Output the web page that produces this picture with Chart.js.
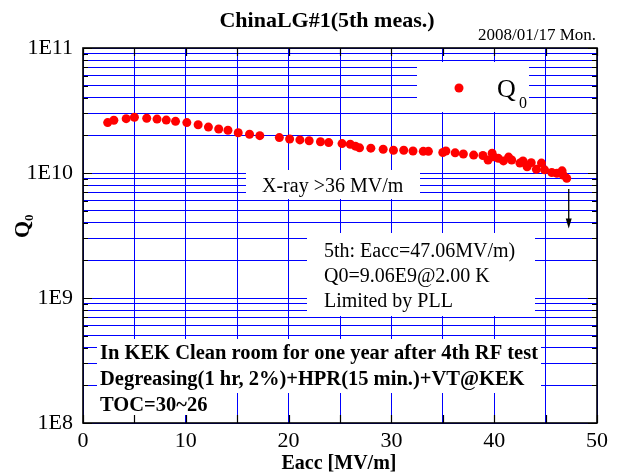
<!DOCTYPE html>
<html>
<head>
<meta charset="utf-8">
<title>ChinaLG#1(5th meas.)</title>
<script src="https://cdn.jsdelivr.net/npm/chart.js"></script>
<style>
  body { margin: 0; background: #fff; }
</style>
</head>
<body>
<canvas id="qChart" width="617" height="475"></canvas>
<script>
// Eacc [MV/m] and Q0
const eacc = [2.4, 3.0, 4.2, 5.0, 6.2, 7.2, 8.1, 9.0, 10.1, 11.2, 12.2, 13.2, 14.1, 15.1, 16.2, 17.2,
  19.1, 20.1, 21.1, 22.0, 23.1, 23.9, 25.2, 26.0, 26.5, 26.9, 28.0, 29.2, 30.2, 31.2, 32.1, 33.1,
  33.6, 35.0, 35.3, 36.2, 37.0, 38.0, 38.9, 39.4, 39.8, 39.9, 40.4, 40.9, 41.4, 41.7, 42.5, 42.8,
  43.2, 43.6, 44.1, 44.6, 44.9, 45.6, 46.1, 46.6, 46.7, 47.06];
const q0 = [2.53e10, 2.64e10, 2.72e10, 2.79e10, 2.74e10, 2.70e10, 2.65e10, 2.59e10, 2.53e10, 2.43e10,
  2.33e10, 2.25e10, 2.20e10, 2.10e10, 2.04e10, 1.99e10, 1.92e10, 1.87e10, 1.84e10, 1.81e10, 1.78e10,
  1.75e10, 1.72e10, 1.70e10, 1.64e10, 1.59e10, 1.58e10, 1.55e10, 1.52e10, 1.52e10, 1.50e10, 1.49e10,
  1.49e10, 1.46e10, 1.50e10, 1.45e10, 1.42e10, 1.39e10, 1.38e10, 1.27e10, 1.44e10, 1.35e10, 1.31e10,
  1.25e10, 1.34e10, 1.27e10, 1.20e10, 1.25e10, 1.12e10, 1.21e10, 1.07e10, 1.20e10, 1.06e10, 1.01e10,
  9.95e9, 1.04e10, 9.64e9, 9.06e9];

const xTicks = [0, 5, 10, 15, 20, 25, 30, 35, 40, 45, 50];
const yDecades = [1e8, 1e9, 1e10, 1e11];
const yTickLabels = ['1E8', '1E9', '1E10', '1E11'];

// arrow below the last point (quench limit marker)
const arrowEacc = 47.25;
const arrowFrom = 7.45e9;
const arrowTo = 3.6e9;

const serif = "'Liberation Serif', 'Times New Roman', serif";
const blue = '#0000ff';

const decor = {
    id: 'decor',
    beforeDraw(chart) {
        const c = chart.ctx;
        c.save();
        c.fillStyle = '#fff';
        c.fillRect(0, 0, chart.width, chart.height);
        c.restore();
    },
    beforeDatasetsDraw(chart) {
        const c = chart.ctx;
        c.save();
        c.fillStyle = '#fff';
        // white backgrounds that hide the grid behind the notes
        c.fillRect(246, 170, 174, 29);
        c.fillRect(307, 233, 228, 83);
        c.fillRect(97, 339, 444, 27);
        c.fillRect(97, 366, 444, 27);
        c.fillRect(97, 393, 117, 22);

        c.fillStyle = '#000';
        c.textAlign = 'left';
        c.textBaseline = 'alphabetic';
        c.font = '20px ' + serif;
        c.fillText('X-ray >36 MV/m', 262, 192);
        c.fillText('5th: Eacc=47.06MV/m)', 324, 257);
        c.fillText('Q0=9.06E9@2.00 K', 324, 282);
        c.fillText('Limited by PLL', 324, 307);

        c.font = 'bold 20.5px ' + serif;
        c.fillText('In KEK Clean room for one year after 4th RF test', 100, 359);
        c.fillText('Degreasing(1 hr, 2%)+HPR(15 min.)+VT@KEK', 100, 385);
        c.fillText('TOC=30~26', 100, 411);
        c.restore();
    },
    afterDatasetsDraw(chart) {
        const c = chart.ctx;
        const a = chart.chartArea;
        const xs = chart.scales.x;
        const ys = chart.scales.y;
        c.save();

        // inward tick marks
        c.strokeStyle = '#000';
        c.lineWidth = 1.2;
        c.beginPath();
        ys.ticks.forEach(t => {
            const y = Math.round(ys.getPixelForValue(t.value)) + 0.5;
            const len = yDecades.includes(t.value) ? 9 : 5;
            c.moveTo(a.left, y); c.lineTo(a.left + len, y);
            c.moveTo(a.right, y); c.lineTo(a.right - len, y);
        });
        xs.ticks.forEach(t => {
            const x = Math.round(xs.getPixelForValue(t.value)) + 0.5;
            c.moveTo(x, a.bottom); c.lineTo(x, a.bottom - 8);
            c.moveTo(x, a.top); c.lineTo(x, a.top + 8);
        });
        c.stroke();

        // frame
        c.lineWidth = 1.6;
        c.strokeRect(a.left, a.top, a.right - a.left, a.bottom - a.top);

        // legend
        c.fillStyle = '#fff';
        c.fillRect(417, 62, 112, 50);
        c.fillStyle = '#ff0000';
        c.beginPath();
        c.arc(459, 88, 4.5, 0, Math.PI * 2);
        c.fill();
        c.fillStyle = '#000';
        c.font = '26px ' + serif;
        c.fillText('Q', 497, 97);
        c.font = '16px ' + serif;
        c.fillText('0', 519, 108);

        // arrow
        const ax = xs.getPixelForValue(arrowEacc);
        const y1 = ys.getPixelForValue(arrowFrom);
        const y2 = ys.getPixelForValue(arrowTo);
        c.strokeStyle = '#000';
        c.lineWidth = 1.3;
        c.beginPath();
        c.moveTo(ax, y1); c.lineTo(ax, y2 - 8);
        c.stroke();
        c.beginPath();
        c.moveTo(ax - 3, y2 - 10); c.lineTo(ax + 3, y2 - 10); c.lineTo(ax, y2);
        c.closePath();
        c.fill();

        // titles
        c.textAlign = 'center';
        c.font = 'bold 22px ' + serif;
        c.fillText('ChinaLG#1(5th meas.)', 327, 27);
        c.textAlign = 'right';
        c.font = '17px ' + serif;
        c.fillText('2008/01/17 Mon.', 596, 40);
        c.textAlign = 'center';
        c.font = 'bold 20px ' + serif;
        c.fillText('Eacc [MV/m]', 339, 469);

        c.translate(0, 227);
        c.rotate(-Math.PI / 2);
        c.textAlign = 'left';
        c.font = 'bold 22px ' + serif;
        c.fillText('Q', -11, 29);
        c.font = 'bold 13px ' + serif;
        c.fillText('0', 6, 33);
        c.restore();
    }
};

new Chart(document.getElementById('qChart'), {
    type: 'scatter',
    data: {
        datasets: [{
            label: 'Q0',
            data: eacc.map((e, i) => ({ x: e, y: q0[i] })),
            pointRadius: 4.5,
            pointHoverRadius: 4.5,
            pointBackgroundColor: '#ff0000',
            pointBorderWidth: 0
        }]
    },
    options: {
        responsive: false,
        animation: false,
        devicePixelRatio: 1,
        layout: { padding: { top: 48, right: 20, left: 0, bottom: 0 } },
        plugins: { legend: { display: false }, tooltip: { enabled: false } },
        scales: {
            x: {
                type: 'linear',
                min: 0,
                max: 50,
                afterBuildTicks: s => { s.ticks = xTicks.map(v => ({ value: v })); },
                afterFit: s => { s.height = 52; },
                ticks: {
                    autoSkip: false,
                    maxRotation: 0,
                    padding: 5,
                    color: '#000',
                    font: { family: serif, size: 22 },
                    callback: v => (v % 10 === 0 ? String(v) : '')
                },
                grid: { color: blue, lineWidth: 1, drawTicks: false },
                border: { display: false }
            },
            y: {
                type: 'logarithmic',
                min: 1e8,
                max: 1e11,
                afterBuildTicks: s => {
                    const t = [];
                    for (let e = 8; e < 11; e++) {
                        for (let m = 1; m < 10; m++) t.push({ value: m * Math.pow(10, e) });
                    }
                    t.push({ value: 1e11 });
                    s.ticks = t;
                },
                afterFit: s => { s.width = 83; },
                ticks: {
                    autoSkip: false,
                    padding: 10,
                    color: '#000',
                    font: { family: serif, size: 22 },
                    callback: v => {
                        const i = yDecades.indexOf(v);
                        return i >= 0 ? yTickLabels[i] : '';
                    }
                },
                grid: { color: blue, lineWidth: 1, drawTicks: false },
                border: { display: false }
            }
        }
    },
    plugins: [decor]
});
</script>
</body>
</html>
